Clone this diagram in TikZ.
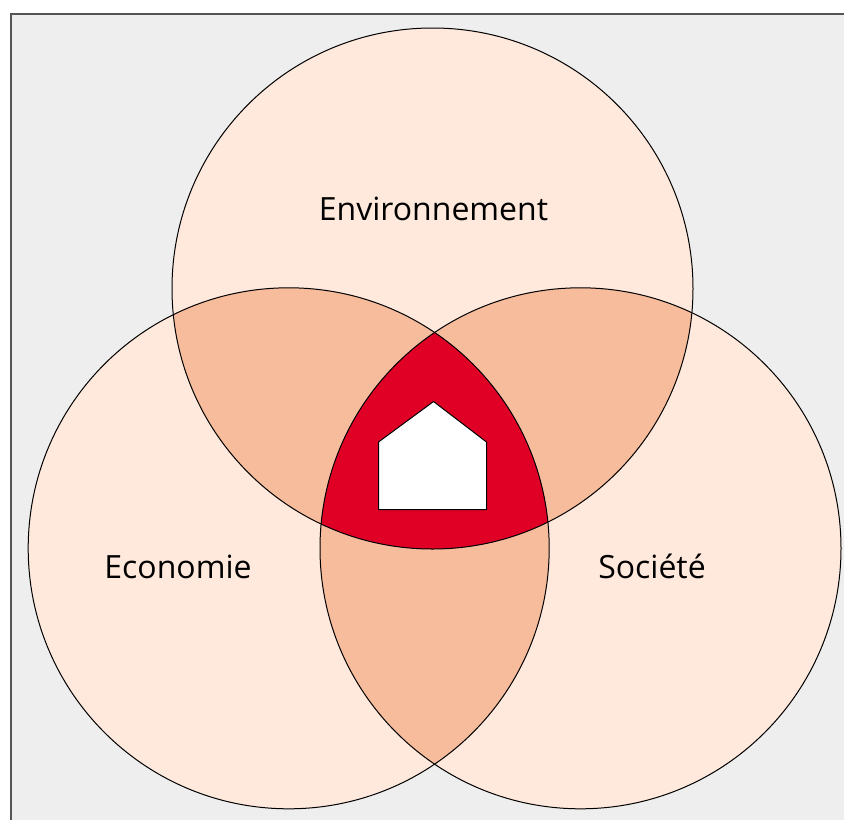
\documentclass[tikz,border=0pt]{standalone}
\usepackage{fontspec}
\setmainfont{Open Sans}
\definecolor{panel}{HTML}{EEEEEE}
\definecolor{framegray}{HTML}{555555}
\definecolor{light}{HTML}{FFE8DC}
\definecolor{mid}{HTML}{F6BC9C}
\definecolor{core}{HTML}{E00025}
\tikzset{
  outline/.style={draw=black,line width=1pt},
  lbl/.style={font=\fontsize{32}{36}\selectfont,text=black,inner sep=0pt,anchor=base}
}
\newcommand{\CircE}{(432.5,288.5) circle[radius=260.5]}
\newcommand{\CircL}{(288.7,548.3) circle[radius=260.5]}
\newcommand{\CircR}{(580.5,548.3) circle[radius=260.5]}
\begin{document}
\begin{tikzpicture}[x=1pt,y=-1pt]
\useasboundingbox (0,0) rectangle (844,820);
\fill[white] (0,0) rectangle (844,820);
\fill[panel] (10.5,13.5) rectangle (844,820);
\draw[framegray,line width=2pt] (10.5,820) -- (10.5,13.5) -- (844,13.5);
\fill[light] \CircE;
\fill[light] \CircL;
\fill[light] \CircR;
\begin{scope}\clip \CircE; \fill[mid] \CircL; \fill[mid] \CircR;\end{scope}
\begin{scope}\clip \CircL; \fill[mid] \CircR;\end{scope}
\begin{scope}\clip \CircE; \clip \CircL; \fill[core] \CircR;\end{scope}
\draw[outline] \CircE;
\draw[outline] \CircL;
\draw[outline] \CircR;
\draw[outline,fill=white,line join=miter] (378.5,442) -- (433.5,401.5) -- (486.5,442) -- (486.5,509.5) -- (378.5,509.5) -- cycle;
\node[lbl] (env) at (433.5,220) {Environnement};
\node[lbl] (eco) at (178,578) {Economie};
\node[lbl] (soc) at (652,578) {Société};
\end{tikzpicture}
\end{document}
